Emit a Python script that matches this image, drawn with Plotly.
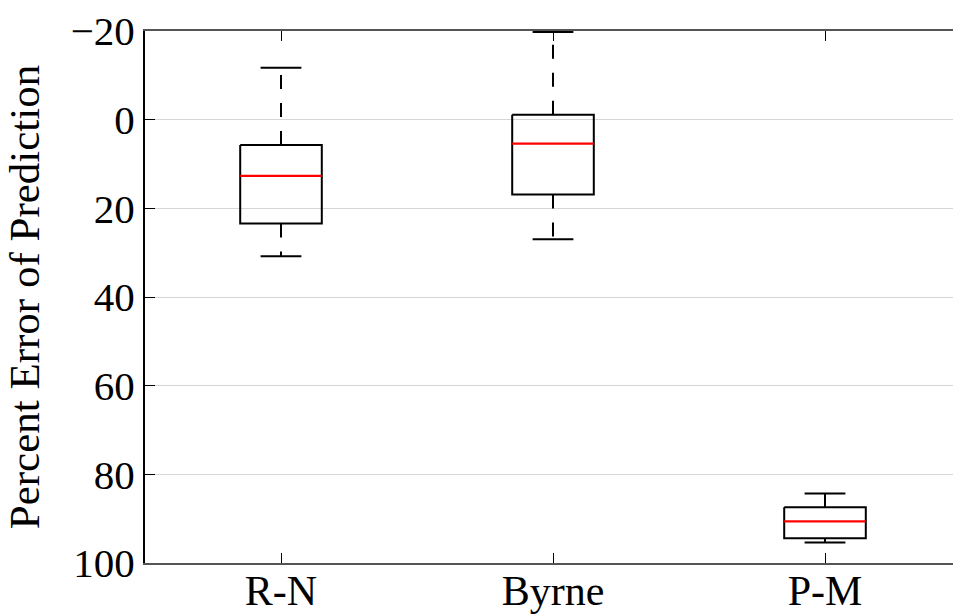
import plotly.graph_objects as go

# Summary statistics per method (percent error of prediction)
methods = ["R-N", "Byrne", "P-M"]
whisker_low = [-11.7, -19.8, 84.3]
q1 = [5.7, -1.1, 87.4]
median = [12.7, 5.4, 90.6]
q3 = [23.4, 16.9, 94.4]
whisker_high = [30.8, 27.0, 95.4]

y_ticks = [-20, 0, 20, 40, 60, 80, 100]

BOX_HALF = 0.15
CAP_HALF = 0.075
FONT = "Liberation Serif, Times New Roman, Times, serif"

fig = go.Figure()

for i, name in enumerate(methods):
    c = i + 1
    # box body
    fig.add_trace(go.Scatter(
        x=[c - BOX_HALF, c + BOX_HALF, c + BOX_HALF, c - BOX_HALF, c - BOX_HALF],
        y=[q1[i], q1[i], q3[i], q3[i], q1[i]],
        mode="lines", line=dict(color="black", width=2),
        hoverinfo="skip", showlegend=False))
    # whiskers (dashed), drawn outward from the box
    for start, end in ((q1[i], whisker_low[i]), (q3[i], whisker_high[i])):
        fig.add_trace(go.Scatter(
            x=[c, c], y=[start, end], mode="lines",
            line=dict(color="black", width=2, dash="14px,14px"),
            hoverinfo="skip", showlegend=False))
    # caps
    for v in (whisker_low[i], whisker_high[i]):
        fig.add_trace(go.Scatter(
            x=[c - CAP_HALF, c + CAP_HALF], y=[v, v], mode="lines",
            line=dict(color="black", width=2),
            hoverinfo="skip", showlegend=False))
    # median
    fig.add_trace(go.Scatter(
        x=[c - BOX_HALF, c + BOX_HALF], y=[median[i], median[i]], mode="lines",
        line=dict(color="#ff0000", width=2.2),
        hoverinfo="skip", showlegend=False))

fig.update_layout(
    width=953, height=616,
    margin=dict(l=145, r=0, t=31, b=53),
    paper_bgcolor="white", plot_bgcolor="white",
    font=dict(family=FONT, size=41, color="black"),
    xaxis=dict(
        range=[0.5, 3.4706], automargin=False,
        tickmode="array", tickvals=[1, 2, 3], ticktext=methods,
        ticks="inside", ticklen=10, tickwidth=1, tickcolor="black",
        ticklabelstandoff=-10,
        showgrid=False, zeroline=False,
        showline=True, linecolor="#555", linewidth=2, mirror="ticks",
        tickfont=dict(family=FONT, size=42),
    ),
    yaxis=dict(
        range=[100, -20], automargin=False,
        tickmode="array", tickvals=y_ticks,
        ticks="inside", ticklen=10, tickwidth=1, tickcolor="black",
        showgrid=True, gridcolor="#d6d6d6", gridwidth=1,
        zeroline=False,
        showline=True, linecolor="black", linewidth=2,
        tickfont=dict(family=FONT, size=41),
        title=dict(text="Percent Error of Prediction",
                   font=dict(family=FONT, size=43), standoff=18),
    ),
)

fig.write_html("out.html")
